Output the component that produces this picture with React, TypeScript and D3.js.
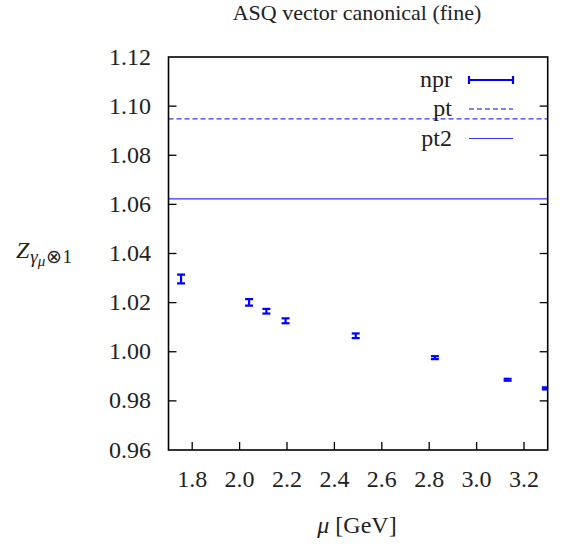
import React from "react";
import * as d3 from "d3";

const muValues = [1.753, 2.040, 2.113, 2.194, 2.490, 2.824, 3.131, 3.292];
const zValues = [1.0296, 1.0201, 1.0165, 1.0126, 1.0065, 0.9976, 0.9886, 0.9851];
const zErrors = [0.0018, 0.0013, 0.00095, 0.001, 0.00095, 0.0006, 0.0004, 0.0004];
const ptValue = 1.0948;
const pt2Value = 1.0622;
const xTicks = [1.8, 2.0, 2.2, 2.4, 2.6, 2.8, 3.0, 3.2];
const yTicks = [0.96, 0.98, 1.0, 1.02, 1.04, 1.06, 1.08, 1.1, 1.12];
const legendLabels = ["npr", "pt", "pt2"];

const W = 564;
const H = 544;
const L = 168.5;
const R = 547.7;
const T = 57;
const B = 450;
const FONT = "'Liberation Serif', 'Times New Roman', serif";
const BLUE = "#0000ff";

export default function App() {
  const x = d3.scaleLinear().domain([1.7, 3.3]).range([L, R]);
  const y = d3.scaleLinear().domain([0.96, 1.12]).range([B, T]);
  const capHalf = 4;
  const legX1 = 469;
  const legX2 = 513;
  const legTextX = 452;
  const legRows = [80, 109, 138.5];

  return (
    <svg
      width={W}
      height={H}
      style={{ position: "absolute", left: 0, top: 0, background: "#fff" }}
      fontFamily={FONT}
    >
      <defs>
        <clipPath id="plotclip">
          <rect x={L} y={T} width={R - L} height={B - T} />
        </clipPath>
      </defs>
      <rect x={0} y={0} width={W} height={H} fill="#fff" />
      <text x={357} y={20} fontSize={22} textAnchor="middle" fill="#222">
        ASQ vector canonical (fine)
      </text>

      {/* y ticks */}
      {yTicks.map((t, i) => (
        <g key={"y" + i}>
          {i > 0 && i < yTicks.length - 1 && (
            <>
              <line x1={L} x2={L + 8} y1={y(t)} y2={y(t)} stroke="#000" strokeWidth={1.3} />
              <line x1={R - 8} x2={R} y1={y(t)} y2={y(t)} stroke="#000" strokeWidth={1.3} />
            </>
          )}
          <text x={151} y={y(t) + 7.5} fontSize={24} textAnchor="end" fill="#222">
            {t.toFixed(2)}
          </text>
        </g>
      ))}

      {/* x ticks */}
      {xTicks.map((t, i) => (
        <g key={"x" + i}>
          <line x1={x(t)} x2={x(t)} y1={B} y2={B - 8} stroke="#000" strokeWidth={1.3} />
          <text x={x(t)} y={487} fontSize={24} textAnchor="middle" fill="#222">
            {t.toFixed(1)}
          </text>
        </g>
      ))}

      <g clipPath="url(#plotclip)">
        <line x1={L} x2={R} y1={y(ptValue)} y2={y(ptValue)} stroke={BLUE} strokeWidth={1} strokeDasharray="5,3" />
        <line x1={L} x2={R} y1={y(pt2Value)} y2={y(pt2Value)} stroke={BLUE} strokeWidth={1.2} strokeOpacity={0.8} />
        {muValues.map((m, i) => {
          const cx = x(m);
          const y1 = y(zValues[i] - zErrors[i]);
          const y2 = y(zValues[i] + zErrors[i]);
          return (
            <g key={"p" + i} stroke={BLUE} strokeWidth={2.2}>
              <line x1={cx} x2={cx} y1={y1} y2={y2} />
              <line x1={cx - capHalf} x2={cx + capHalf} y1={y1} y2={y1} />
              <line x1={cx - capHalf} x2={cx + capHalf} y1={y2} y2={y2} />
            </g>
          );
        })}
      </g>

      {/* legend */}
      {legendLabels.map((lab, i) => (
        <text key={"lt" + i} x={legTextX} y={legRows[i] + 7} fontSize={24} textAnchor="end" fill="#222">
          {lab}
        </text>
      ))}
      <g stroke={BLUE} strokeWidth={2.2}>
        <line x1={legX1} x2={legX2} y1={legRows[0]} y2={legRows[0]} />
        <line x1={legX1} x2={legX1} y1={legRows[0] - 4} y2={legRows[0] + 4} />
        <line x1={legX2} x2={legX2} y1={legRows[0] - 4} y2={legRows[0] + 4} />
      </g>
      <line x1={legX1} x2={legX2} y1={legRows[1]} y2={legRows[1]} stroke={BLUE} strokeWidth={1} strokeDasharray="5,3" />
      <line x1={legX1} x2={legX2} y1={legRows[2]} y2={legRows[2]} stroke={BLUE} strokeWidth={1.2} strokeOpacity={0.8} />

      {/* frame */}
      <rect x={L} y={T} width={R - L} height={B - T} fill="none" stroke="#000" strokeWidth={1.6} />

      {/* y label */}
      <text x={16} y={258} fontSize={24} fill="#222">
        <tspan fontStyle="italic">Z</tspan>
        <tspan fontSize={19} dy={5} dx={1} fontStyle="italic">γ</tspan>
        <tspan fontSize={15} dy={3} fontStyle="italic">μ</tspan>
        <tspan fontSize={19} dy={-3} dx={1}>⊗1</tspan>
      </text>

      {/* x label */}
      <text x={357} y={533} fontSize={24} textAnchor="middle" fill="#222">
        <tspan fontStyle="italic">μ</tspan> [GeV]
      </text>
    </svg>
  );
}
